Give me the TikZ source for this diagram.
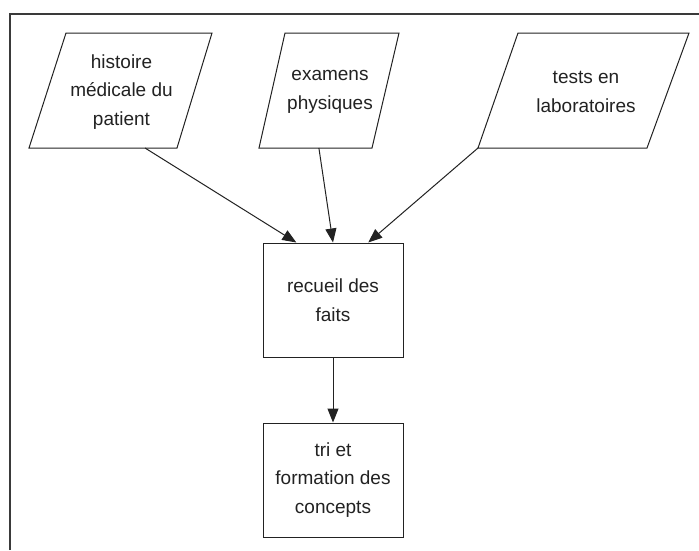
\documentclass[tikz,border=0pt]{standalone}
\usepackage{fontspec}
\setmainfont{Liberation Sans}
\usetikzlibrary{arrows.meta,calc}
\definecolor{ink}{HTML}{222222}
\definecolor{framegray}{HTML}{3A3A3A}
\begin{document}
\begin{tikzpicture}[x=1pt,y=-1pt,
  outline/.style={draw=ink, line width=1pt},
  label/.style={align=center, font=\fontsize{19}{28.5}\selectfont, text=ink, inner sep=0pt},
  stepbox/.style={outline, label, minimum width=140pt, minimum height=114pt},
  arr/.style={draw=ink, line width=1pt, -{Triangle[length=14pt,width=11pt]}},
]
\useasboundingbox (0,0) rectangle (699,550);
\fill[white] (0,0) rectangle (699,550);

% outer frame (open to the right and bottom)
\draw[draw=framegray, line width=2pt] (9.5,550) -- (9.5,14) -- (699,14);

% input parallelograms
\coordinate (h-nw) at (66,33);  \coordinate (h-ne) at (212,33);
\coordinate (h-se) at (177,148); \coordinate (h-sw) at (29,148);
\draw[outline] (h-nw) -- (h-ne) -- (h-se) -- (h-sw) -- cycle;
\node[label] (hist) at (121.5,92) {histoire\\médicale du\\patient};

\coordinate (e-nw) at (285,33);  \coordinate (e-ne) at (399,33);
\coordinate (e-se) at (372,148); \coordinate (e-sw) at (259,148);
\draw[outline] (e-nw) -- (e-ne) -- (e-se) -- (e-sw) -- cycle;
\node[label] (exam) at (330,92) {examens\\physiques};

\coordinate (l-nw) at (518,33);  \coordinate (l-ne) at (689,33);
\coordinate (l-se) at (647,148); \coordinate (l-sw) at (478,148);
\draw[outline] (l-nw) -- (l-ne) -- (l-se) -- (l-sw) -- cycle;
\node[label] (labo) at (586,92) {tests en\\laboratoires};

% process boxes
\node[stepbox] (rf) at (333,300) {recueil des\\faits};
\node[stepbox] (tri) at (333,480) {tri et\\formation des\\concepts};

% connectors
\coordinate (h-out) at ($(h-sw)!0.784!(h-se)$);
\coordinate (e-out) at ($(e-sw)!0.53!(e-se)$);
\draw[arr] (h-out) -- ($(rf.north west)!0.24!(rf.north east)$);
\draw[arr] (e-out) -- (rf.north);
\draw[arr] (l-sw) -- ($(rf.north west)!0.75!(rf.north east)$);
\draw[arr] (rf.south) -- (tri.north);
\end{tikzpicture}
\end{document}
